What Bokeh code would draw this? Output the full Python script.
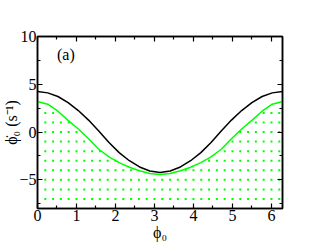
import numpy as np
from bokeh.plotting import figure
from bokeh.models import Range1d, LinearAxis, FixedTicker, Label
from bokeh.embed import file_html
from bokeh.resources import INLINE

# phase values (x)
phi = [0.0, 0.262, 0.524, 0.785, 1.047, 1.309, 1.571, 1.833, 2.094, 2.356, 2.618, 2.880, 3.142,
       3.403, 3.665, 3.927, 4.189, 4.451, 4.712, 4.974, 5.236, 5.498, 5.760, 6.021, 6.283]
# black curve
upper = [4.24, 4.10, 3.72, 3.08, 2.25, 1.25, 0.10, -1.10, -2.15, -3.00, -3.65, -4.08, -4.24,
         -4.08, -3.65, -3.00, -2.15, -1.10, 0.10, 1.25, 2.25, 3.08, 3.72, 4.10, 4.24]
# green curve
lower = [3.20, 2.92, 2.18, 1.22, 0.32, -0.70, -1.80, -2.60, -3.20, -3.68, -4.05, -4.33, -4.44,
         -4.33, -4.05, -3.68, -3.20, -2.60, -1.80, -0.70, 0.32, 1.22, 2.18, 2.92, 3.20]
# dotted grid
grid_x = [0.2, 0.4, 0.6, 0.8, 1.0, 1.2, 1.4, 1.6, 1.8, 2.0, 2.2, 2.4, 2.6, 2.8, 3.0, 3.2,
          3.4, 3.6, 3.8, 4.0, 4.2, 4.4, 4.6, 4.8, 5.0, 5.2, 5.4, 5.6, 5.8, 6.0, 6.2]
grid_y = [-7, -6, -5, -4, -3, -2, -1, 0, 1, 2]

x_ticks = [0, 1, 2, 3, 4, 5, 6]
x_minor = [0.5, 1.5, 2.5, 3.5, 4.5, 5.5]
y_ticks = [-5, 0, 5, 10]
y_minor = [-7.5, -2.5, 2.5, 7.5]

FONT = "Liberation Serif"
GREEN = "#00ff00"

p = figure(width=317, height=245, output_backend="svg", toolbar_location=None,
           x_range=Range1d(0, 6.2832), y_range=Range1d(-8, 10),
           min_border_left=37, min_border_right=35, min_border_top=36, min_border_bottom=37,
           x_axis_location=None, y_axis_location=None)
p.grid.visible = False
p.outline_line_color = "black"
p.outline_line_width = 1.5
p.background_fill_color = "white"
p.border_fill_color = "white"

# dots below green curve
dx, dy = [], []
for xv in grid_x:
    g = np.interp(xv, phi, lower)
    for yv in grid_y:
        if yv < g:
            dx.append(xv)
            dy.append(yv)
p.scatter(dx, dy, marker="square", size=2, color=GREEN, line_color=None)

p.line(phi, upper, line_color="black", line_width=1.5)
p.line(phi, lower, line_color=GREEN, line_width=1.5)


def make_axis(ticks, minor, labels=True, label="", label_standoff=0):
    ax = LinearAxis(ticker=FixedTicker(ticks=ticks, minor_ticks=minor))
    ax.major_tick_in = 5
    ax.major_tick_out = 0
    ax.minor_tick_in = 3
    ax.minor_tick_out = 0
    ax.axis_line_width = 1.5
    ax.major_tick_line_width = 1.2
    ax.minor_tick_line_width = 1.2
    ax.major_label_text_font = FONT
    ax.major_label_text_font_size = "16px"
    ax.major_label_text_color = "black"
    ax.major_label_standoff = 1
    if not labels:
        ax.major_label_overrides = {t: "" for t in ticks}
        ax.major_label_standoff = 0
    if label:
        ax.axis_label = label
        ax.axis_label_text_font = FONT
        ax.axis_label_text_font_size = "16px"
        ax.axis_label_text_font_style = "normal"
        ax.axis_label_text_color = "black"
        ax.axis_label_standoff = label_standoff
    return ax

p.add_layout(make_axis(x_ticks, x_minor, label="ϕ₀"), "below")
p.add_layout(make_axis(x_ticks, x_minor, labels=False), "above")
p.add_layout(make_axis(y_ticks, y_minor, label="ϕ̇₀ (s⁻¹)", label_standoff=-4), "left")
p.add_layout(make_axis(y_ticks, y_minor, labels=False), "right")

p.add_layout(Label(x=0.5, y=8.1, text="(a)", text_font=FONT, text_font_size="16px",
                   text_align="left", text_baseline="middle", text_color="black"))

open("out.html", "w").write(file_html(p, INLINE))
